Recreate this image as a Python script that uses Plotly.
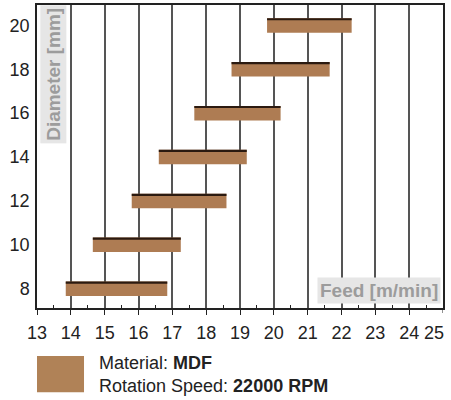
import plotly.graph_objects as go

# Cutting data for MDF at 22000 RPM
diameters = [8, 10, 12, 14, 16, 18, 20]          # mm
feed_min = [13.85, 14.65, 15.8, 16.6, 17.65, 18.75, 19.8]   # m/min
feed_max = [16.85, 17.25, 18.6, 19.2, 20.2, 21.65, 22.3]    # m/min

x_ticks = list(range(13, 26))
x_ticktext = [str(v) for v in x_ticks]
y_ticks = diameters

BROWN = "#ae7c53"
EDGE = "#2b1a10"
FONT = "Liberation Sans, Arial, sans-serif"

spans = [hi - lo for lo, hi in zip(feed_min, feed_max)]
bar_w = 0.66
edge_w = 0.1

fig = go.Figure()
fig.add_trace(go.Bar(
    orientation="h", y=diameters, x=spans, base=feed_min,
    width=bar_w, offset=-bar_w / 2,
    marker=dict(color=BROWN, line=dict(width=0)),
    hoverinfo="skip", showlegend=False,
))
# dark top edge of each bar
fig.add_trace(go.Bar(
    orientation="h", y=diameters, x=spans, base=feed_min,
    width=edge_w, offset=bar_w / 2 - edge_w,
    marker=dict(color=EDGE, line=dict(width=0)),
    hoverinfo="skip", showlegend=False,
))

fig.update_layout(
    width=451, height=400,
    margin=dict(l=37, r=8, t=5, b=92),
    paper_bgcolor="white", plot_bgcolor="white",
    barmode="overlay",
    font=dict(family=FONT, size=18, color="#222"),
    xaxis=dict(
        range=[13, 25], tickmode="array", tickvals=x_ticks[:-1],
        ticktext=x_ticktext[:-1], automargin=False, ticklabelstandoff=3,
        showgrid=True, gridcolor="#555", gridwidth=1.5,
        showline=True, linecolor="#222", linewidth=1.5, mirror=True,
        ticks="outside", ticklen=5, tickcolor="#222", tickwidth=1,
        minor=dict(ticks="inside", ticklen=3, tickcolor="#222", tickwidth=1,
                   tick0=13.5, dtick=1, showgrid=False),
        tickfont=dict(size=18, color="#222"), zeroline=False,
    ),
    yaxis=dict(
        range=[7.12, 20.93], tickmode="array", tickvals=y_ticks,
        automargin=False,
        showgrid=False, showline=True, linecolor="#222", linewidth=1.5, mirror=True,
        ticks="", ticklabelstandoff=2,
        tickfont=dict(size=18, color="#222"), zeroline=False,
    ),
)

# last x tick: tick mark at the frame edge, label nudged left to stay on the page
fig.add_annotation(
    text=x_ticktext[-1], xref="x", yref="paper", x=x_ticks[-1], y=0,
    xshift=-9, yshift=-25, xanchor="center", yanchor="middle",
    showarrow=False, font=dict(family=FONT, size=18, color="#222"),
)
fig.add_shape(type="line", xref="x", yref="paper", x0=x_ticks[-1], x1=x_ticks[-1],
              y0=0, y1=-0.0165, line=dict(color="#222", width=1))

# axis titles placed inside the plot on grey boxes
fig.add_annotation(
    text="<b>Diameter [mm]</b>", textangle=-90,
    xref="paper", yref="paper", x=0.007, y=1, xanchor="left", yanchor="top",
    showarrow=False, bgcolor="#e6e6e6", borderpad=2,
    font=dict(family=FONT, size=19, color="#9c9c9c"),
)
fig.add_annotation(
    text="<b>Feed [m/min]</b>",
    xref="paper", yref="paper", x=0.995, y=0.013, xanchor="right", yanchor="bottom",
    showarrow=False, bgcolor="#e6e6e6", borderpad=2,
    font=dict(family=FONT, size=19, color="#9c9c9c"),
)

# legend block below the chart
fig.add_shape(type="rect", xref="paper", yref="paper",
              x0=0, x1=0.1158, y0=-0.2782, y1=-0.1584,
              fillcolor="#b08257", line=dict(width=0))
fig.add_annotation(
    text="Material: <b>MDF</b><br>Rotation Speed: <b>22000 RPM</b>",
    xref="paper", yref="paper", x=0.147, y=-0.2195, xanchor="left", yanchor="middle",
    align="left", showarrow=False,
    font=dict(family=FONT, size=18, color="#222"),
)

fig.write_html("out.html")
